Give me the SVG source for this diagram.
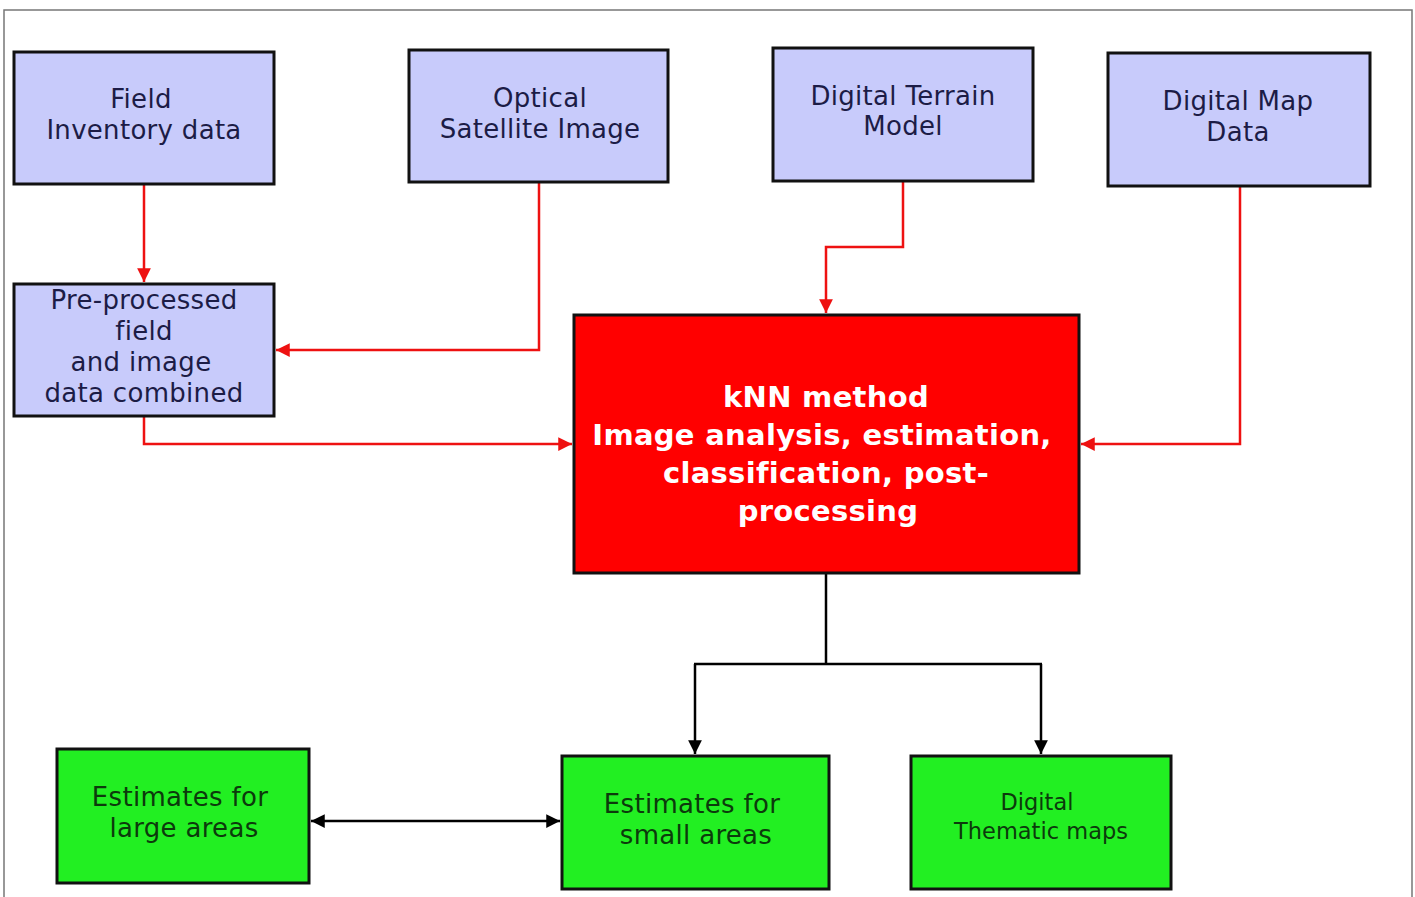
<svg xmlns="http://www.w3.org/2000/svg" width="1415" height="897" viewBox="0 0 1415 897">
<style>
.blue{fill:#c8cbfb;stroke:#111;stroke-width:3}
.green{fill:#22ef22;stroke:#111;stroke-width:3}
.red{fill:#ff0000;stroke:#111;stroke-width:3}
.tb{font-family:"DejaVu Sans",sans-serif;font-size:26px;fill:#1c1c46;text-anchor:middle;letter-spacing:0.3px}
.tg{font-family:"DejaVu Sans",sans-serif;font-size:26px;fill:#0c3a0c;text-anchor:middle;letter-spacing:0.3px}
.tg.sm{font-size:22.5px;letter-spacing:0}
.tr{font-family:"DejaVu Sans",sans-serif;font-size:29px;font-weight:bold;fill:#fff;text-anchor:middle;letter-spacing:0.3px}
.rl{fill:none;stroke:#ee1111;stroke-width:2.5}
.bl{fill:none;stroke:#000;stroke-width:2.5}
</style>
<defs>
<marker id="ar" viewBox="0 0 10 10" refX="10" refY="5" markerWidth="5.5" markerHeight="5.5" orient="auto-start-reverse" markerUnits="strokeWidth"><path d="M0,0L10,5L0,10z" fill="#ee1111"/></marker>
<marker id="ab" viewBox="0 0 10 10" refX="10" refY="5" markerWidth="5.5" markerHeight="5.5" orient="auto-start-reverse" markerUnits="strokeWidth"><path d="M0,0L10,5L0,10z" fill="#000"/></marker>
</defs>
<rect width="1415" height="897" fill="#fff"/>
<path d="M4,897V10H1412V897" fill="none" stroke="#777" stroke-width="1.5"/>
<g id="connectors">
<path class="rl" d="M144,185V282" marker-end="url(#ar)"/>
<path class="rl" d="M539,183V350H276" marker-end="url(#ar)"/>
<path class="rl" d="M903,182V247H826V313" marker-end="url(#ar)"/>
<path class="rl" d="M1240,187V444H1081" stroke-width="2" marker-end="url(#ar)"/>
<path class="rl" d="M144,417V444H572" marker-end="url(#ar)"/>
<path class="bl" d="M826,574V664"/>
<path class="bl" d="M694,664H1042" stroke-width="3.5"/>
<path class="bl" d="M695,664V754" marker-end="url(#ab)"/>
<path class="bl" d="M1041,664V754" marker-end="url(#ab)"/>
<path class="bl" d="M311,821H560" marker-start="url(#ab)" marker-end="url(#ab)"/>
</g>
<g id="field"><rect class="blue" x="14" y="52" width="260" height="132"/><text class="tb" x="141" y="108">Field</text><text class="tb" x="144" y="139">Inventory data</text></g>
<g id="optical"><rect class="blue" x="409" y="50" width="259" height="132"/><text class="tb" x="540" y="107">Optical</text><text class="tb" x="540" y="138">Satellite Image</text></g>
<g id="dtm"><rect class="blue" x="773" y="48" width="260" height="133"/><text class="tb" x="903" y="105">Digital Terrain</text><text class="tb" x="903" y="135">Model</text></g>
<g id="map"><rect class="blue" x="1108" y="53" width="262" height="133"/><text class="tb" x="1238" y="110">Digital Map</text><text class="tb" x="1238" y="141">Data</text></g>
<g id="pre"><rect class="blue" x="14" y="284" width="260" height="132"/><text class="tb" x="144" y="309">Pre-processed</text><text class="tb" x="144" y="340">field</text><text class="tb" x="141" y="371">and image</text><text class="tb" x="144" y="402">data combined</text></g>
<g id="knn"><rect class="red" x="574" y="315" width="505" height="258"/><text class="tr" x="826" y="407">kNN method</text><text class="tr" x="822" y="445">Image analysis, estimation,</text><text class="tr" x="826" y="483">classification, post-</text><text class="tr" x="828" y="521">processing</text></g>
<g id="large"><rect class="green" x="57" y="749" width="252" height="134"/><text class="tg" x="180" y="806">Estimates for</text><text class="tg" x="184" y="837">large areas</text></g>
<g id="small"><rect class="green" x="562" y="756" width="267" height="133"/><text class="tg" x="692" y="813">Estimates for</text><text class="tg" x="696" y="844">small areas</text></g>
<g id="thematic"><rect class="green" x="911" y="756" width="260" height="133"/><text class="tg sm" x="1037" y="810">Digital</text><text class="tg sm" x="1041" y="839">Thematic maps</text></g>
</svg>
